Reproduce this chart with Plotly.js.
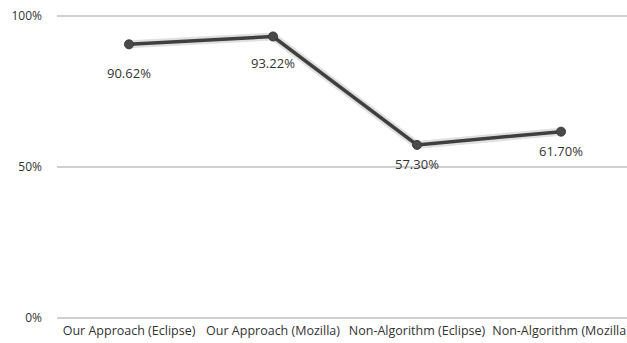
<!DOCTYPE html>
<html>
<head>
<meta charset="utf-8">
<script src="https://cdn.plot.ly/plotly-3.0.1.min.js"></script>
<style>html,body{margin:0;padding:0;background:#fff;overflow:hidden}#chart{width:627px;height:343px}</style>
</head>
<body>
<div id="chart"></div>
<script>
const categories = ["Our Approach (Eclipse)", "Our Approach (Mozilla)", "Non-Algorithm (Eclipse)", "Non-Algorithm (Mozilla)"];
const values = [0.9062, 0.9322, 0.5730, 0.6170];
const valueLabels = ["90.62%", "93.22%", "57.30%", "61.70%"];
const yTickVals = [0, 0.5, 1];
const yTickText = ["0%", "50%", "100%"];

// layout-only: vertical pixel offsets of the value labels below their points
const labelShift = [-29, -27, -19, -19];

const xIdx = categories.map((c, i) => i);
const FONT = 'Open Sans, Noto Sans, sans-serif';

const shadow = {
  x: xIdx, y: values, type: 'scatter', mode: 'lines',
  line: {color: 'rgba(0,0,0,0.12)', width: 8},
  hoverinfo: 'skip', showlegend: false
};
const main = {
  x: xIdx, y: values, type: 'scatter', mode: 'lines+markers',
  line: {color: '#3f3f3f', width: 3.5},
  marker: {color: '#4a4a4a', size: 9, line: {color: '#3a3a3a', width: 1}},
  showlegend: false
};

const annotations = values.map((v, i) => ({
  x: i, y: v, xref: 'x', yref: 'y', text: valueLabels[i],
  showarrow: false, yshift: labelShift[i],
  font: {family: FONT, size: 13, color: '#333'}
}));

const gridShapes = yTickVals.map(v => ({
  type: 'line', xref: 'paper', yref: 'y', x0: 0, x1: 1, y0: v, y1: v,
  line: {color: '#c0c0c0', width: 1.4}, layer: 'below'
}));

const layout = {
  width: 627, height: 343,
  margin: {l: 57, r: 0, t: 10, b: 18},
  paper_bgcolor: '#fff', plot_bgcolor: 'rgba(0,0,0,0)',
  xaxis: {
    range: [-0.5, 3.458], tickvals: xIdx, ticktext: categories,
    showgrid: false, zeroline: false, showline: false, ticks: '',
    tickfont: {family: FONT, size: 12.5, color: '#333'},
    ticklabelstandoff: -4, ticklabeloverflow: 'allow'
  },
  yaxis: {
    range: [-0.0233, 1.0199], tickvals: yTickVals, ticktext: yTickText,
    showgrid: false, zeroline: false, showline: false, ticks: '',
    tickfont: {family: FONT, size: 12, color: '#333'},
    ticklabelstandoff: 14
  },
  shapes: gridShapes,
  annotations: annotations
};

Plotly.newPlot('chart', [shadow, main], layout, {displayModeBar: false, staticPlot: true});
</script>
</body>
</html>
